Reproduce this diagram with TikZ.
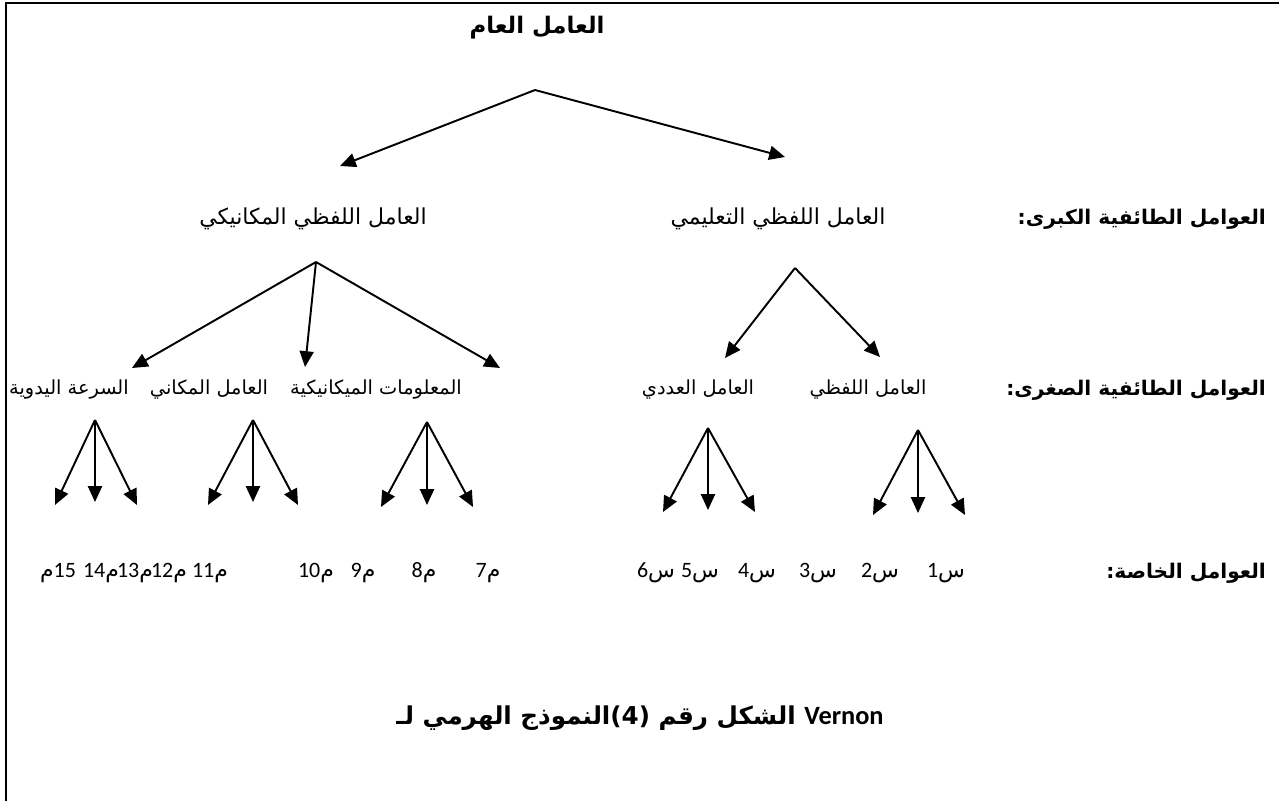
\documentclass[tikz,border=0pt]{standalone}
\usepackage{fontspec}
\setmainfont{DejaVu Sans}
\newfontfamily\arabicfont[Script=Arabic]{DejaVu Sans}
\newfontfamily\calibri{Carlito}
\TeXXeTstate=1
\usetikzlibrary{arrows.meta}

\newcommand{\mlab}[1]{{\calibri #1}{\arabicfont م}}
\newcommand{\slab}[1]{{\calibri #1}{\arabicfont س}}

\begin{document}
\begin{tikzpicture}[x=0.02cm,y=-0.02cm,
    lbl/.style={font=\arabicfont\fontsize{12.5}{14}\selectfont,inner sep=1pt},
    sub/.style={font=\arabicfont\fontsize{11}{13}\selectfont,inner sep=1pt},
    head/.style={font=\arabicfont\bfseries\fontsize{11.5}{13}\selectfont,inner sep=1pt,anchor=east},
    num/.style={font=\fontsize{12.5}{14}\selectfont,inner sep=1pt},
    arr/.style={line width=1.1pt,-{Triangle[length=9pt,width=8pt]}}
  ]
  \useasboundingbox (0,0) rectangle (1279,801);
  \draw[line width=1.2pt] (6,801) -- (6,3) -- (1279,3);

  % general factor
  \node[lbl,font=\arabicfont\bfseries\fontsize{13}{15}\selectfont] (gen) at (537,28) {\beginR العامل العام\endR};
  \coordinate (g0) at (535,90);
  \coordinate (gL) at (340,166);
  \coordinate (gR) at (785,157);
  \draw[arr] (g0) -- (gL);
  \draw[arr] (g0) -- (gR);

  % major group factors
  \node[head] (major) at (1268,219) {\beginR العوامل الطائفية الكبرى\hbox{:}\endR};
  \node[lbl] (mech) at (313,219) {\beginR العامل اللفظي المكانيكي\endR};
  \node[lbl] (edu) at (778,219) {\beginR العامل اللفظي التعليمي\endR};

  \coordinate (k0) at (316,262);
  \coordinate (k1) at (132,368);
  \coordinate (k2) at (305,367);
  \coordinate (k3) at (500,368);
  \draw[arr] (k0) -- (k1);
  \draw[arr] (k0) -- (k2);
  \draw[arr] (k0) -- (k3);
  \coordinate (v0) at (795,268);
  \coordinate (v1) at (725,358);
  \coordinate (v2) at (880,357);
  \draw[arr] (v0) -- (v1);
  \draw[arr] (v0) -- (v2);

  % minor group factors
  \node[head] (minor) at (1268,390) {\beginR العوامل الطائفية الصغرى\hbox{:}\endR};
  \node[sub] (speed) at (69,390) {\beginR السرعة اليدوية\endR};
  \node[sub] (space) at (209,390) {\beginR العامل المكاني\endR};
  \node[sub] (info) at (376,390) {\beginR المعلومات الميكانيكية\endR};
  \node[sub] (numer) at (698,390) {\beginR العامل العددي\endR};
  \node[sub] (verb) at (868,390) {\beginR العامل اللفظي\endR};

  \coordinate (t1) at (95,420);
  \coordinate (t1a) at (55,505);
  \coordinate (t1b) at (95,502);
  \coordinate (t1c) at (137,505);
  \coordinate (t2) at (253,420);
  \coordinate (t2a) at (208,505);
  \coordinate (t2b) at (253,502);
  \coordinate (t2c) at (298,505);
  \coordinate (t3) at (427,422);
  \coordinate (t3a) at (381,507);
  \coordinate (t3b) at (427,505);
  \coordinate (t3c) at (473,507);
  \coordinate (t4) at (708,428);
  \coordinate (t4a) at (663,512);
  \coordinate (t4b) at (708,510);
  \coordinate (t4c) at (755,512);
  \coordinate (t5) at (918,430);
  \coordinate (t5a) at (873,515);
  \coordinate (t5b) at (918,513);
  \coordinate (t5c) at (965,515);
  \draw[arr] (t1) -- (t1a);
  \draw[arr] (t1) -- (t1b);
  \draw[arr] (t1) -- (t1c);
  \draw[arr] (t2) -- (t2a);
  \draw[arr] (t2) -- (t2b);
  \draw[arr] (t2) -- (t2c);
  \draw[arr] (t3) -- (t3a);
  \draw[arr] (t3) -- (t3b);
  \draw[arr] (t3) -- (t3c);
  \draw[arr] (t4) -- (t4a);
  \draw[arr] (t4) -- (t4b);
  \draw[arr] (t4) -- (t4c);
  \draw[arr] (t5) -- (t5a);
  \draw[arr] (t5) -- (t5b);
  \draw[arr] (t5) -- (t5c);

  % specific factors
  \node[head] (spec) at (1268,573) {\beginR العوامل الخاصة\hbox{:}\endR};
  \node[num] (m15) at (58,573) {{\arabicfont م}{\calibri 15}};
  \node[num] (m14) at (101,573) {\mlab{14}};
  \node[num] (m13) at (135,573) {\mlab{13}};
  \node[num] (m12) at (169,573) {\mlab{12}};
  \node[num] (m11) at (210,573) {\mlab{11}};
  \node[num] (m10) at (316,573) {\mlab{10}};
  \node[num] (m9) at (363,573) {\mlab{9}};
  \node[num] (m8) at (424,573) {\mlab{8}};
  \node[num] (m7) at (488,573) {\mlab{7}};
  \node[num] (s6) at (656,573) {\slab{6}};
  \node[num] (s5) at (700,573) {\slab{5}};
  \node[num] (s4) at (757,573) {\slab{4}};
  \node[num] (s3) at (818,573) {\slab{3}};
  \node[num] (s2) at (880,573) {\slab{2}};
  \node[num] (s1) at (946,573) {\slab{1}};

  % caption
  \node[lbl,font=\arabicfont\bfseries\fontsize{14}{16}\selectfont] (cap) at (640,718) {\beginR الشكل رقم \hbox{(4)}النموذج الهرمي لـ\endR\ {\calibri\bfseries\fontsize{15}{17}\selectfont Vernon}};
\end{tikzpicture}
\end{document}
